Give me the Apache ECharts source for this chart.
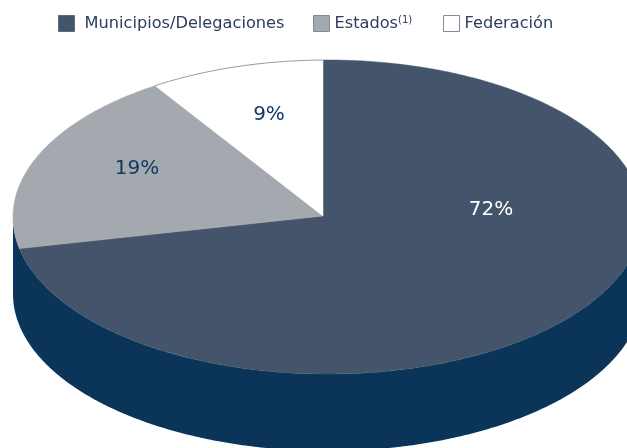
<!DOCTYPE html>
<html><head><meta charset="utf-8">
<style>html,body{margin:0;padding:0;background:#fff}#c{width:627px;height:448px}</style>
<script src="https://cdn.jsdelivr.net/npm/echarts@6/dist/echarts.min.js"></script>
</head><body><div id="c"></div>
<script>
const categories = ['Municipios/Delegaciones', 'Estados', 'Federación'];
const shares = [72, 19, 9];
const shareLabels = ['72%', '19%', '9%'];

const CX = 327.5, CY = 217, RX = 314.5, RY = 157, DEPTH = 77, APEX = [323, 216];
const START = -0.82 * Math.PI / 180;
const colors = ['#44546a', '#a4a9b0', '#ffffff'];
const labelColors = ['#ffffff', '#123a60', '#123a60'];
const labelAt = [[491, 210], [137, 169], [269, 115]];
const total = shares.reduce((a, b) => a + b, 0);
const pt = (t, dy) => [CX + RX * Math.sin(t), CY - RY * Math.cos(t) + (dy || 0)];
function arc(a, b, dy) {
  const n = Math.max(8, Math.ceil(Math.abs(b - a) / 0.01)), out = [];
  for (let i = 0; i <= n; i++) out.push(pt(a + (b - a) * i / n, dy));
  return out;
}
function sliceSeries(i) {
  const before = shares.slice(0, i).reduce((a, b) => a + b, 0);
  return {
    type: 'custom', name: categories[i], coordinateSystem: 'none', silent: true,
    itemStyle: { color: colors[i] }, data: [[shares[i]]], clip: false,
    renderItem: (params, api) => {
      const a = START + before / total * 2 * Math.PI;
      const b = START + (before + api.value(0)) / total * 2 * Math.PI;
      const pts = arc(a, b);
      const kids = [{ type: 'polygon', shape: { points: [APEX].concat(pts) },
        style: { fill: colors[i], stroke: colors[i], lineWidth: 0.5 } }];
      if (i === 2) kids.push({ type: 'polyline', shape: { points: pts },
        style: { fill: null, stroke: '#8f9bab', lineWidth: 1 } });
      kids.push({ type: 'text', style: { x: labelAt[i][0], y: labelAt[i][1], text: shareLabels[i],
        fill: labelColors[i], font: '20px "DejaVu Sans"', align: 'center', verticalAlign: 'middle' } });
      return { type: 'group', children: kids };
    }
  };
}
const sideSeries = {
  type: 'custom', name: 'side', coordinateSystem: 'none', silent: true, data: [[1]],
  renderItem: () => {
    const top = arc(Math.PI / 2, 3 * Math.PI / 2), bottom = arc(3 * Math.PI / 2, Math.PI / 2, DEPTH);
    return { type: 'polygon', shape: { points: top.concat(bottom) }, style: { fill: '#0a3558' } };
  }
};
const legendBase = { top: 15, padding: 0, itemWidth: 16, itemHeight: 16, orient: 'horizontal', selectedMode: false };
const legendText = { fontFamily: 'DejaVu Sans', fontSize: 16.2, color: '#2b3d5c' };
const chart = echarts.init(document.getElementById('c'), null, { renderer: 'canvas' });
chart.setOption({
  animation: false, backgroundColor: '#fff',
  legend: [
    Object.assign({}, legendBase, { left: 58, data: [{ name: categories[0], icon: 'rect',
      itemStyle: { color: colors[0], borderColor: '#5a6b84', borderWidth: 1 } }],
      textStyle: Object.assign({}, legendText, { padding: [0, 0, 0, 5] }) }),
    Object.assign({}, legendBase, { left: 313, data: [{ name: categories[1], icon: 'rect',
      itemStyle: { color: colors[1], borderColor: '#7f8b9c', borderWidth: 1 } }],
      formatter: n => n + '{s|(1)}',
      textStyle: Object.assign({}, legendText, {
        rich: { s: { fontFamily: 'DejaVu Sans', fontSize: 10, color: '#2b3d5c', verticalAlign: 'top', padding: [0, 0, 6, 0] } } }) }),
    Object.assign({}, legendBase, { left: 443, data: [{ name: categories[2], icon: 'rect',
      itemStyle: { color: colors[2], borderColor: '#7f8b9c', borderWidth: 1 } }],
      textStyle: legendText })
  ],
  series: [sideSeries, sliceSeries(0), sliceSeries(1), sliceSeries(2)]
});
</script></body></html>
